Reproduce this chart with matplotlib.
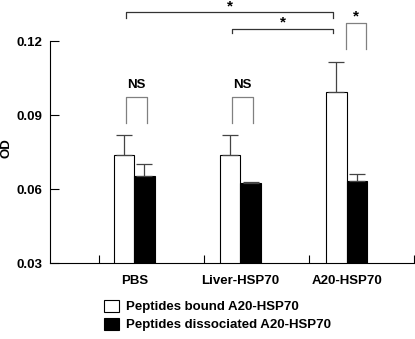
import matplotlib
matplotlib.use("Agg")
import matplotlib.pyplot as plt
import numpy as np

plt.rcParams['font.family'] = ['Liberation Sans', 'DejaVu Sans']
plt.rcParams['font.weight'] = 'bold'

categories = ["PBS", "Liver-HSP70", "A20-HSP70"]
series_names = ["Peptides bound A20-HSP70", "Peptides dissociated A20-HSP70"]
bound = [0.0738, 0.0737, 0.0992]
bound_err = [0.0081, 0.0082, 0.0122]
dissociated = [0.0653, 0.0626, 0.0634]
dissociated_err = [0.0047, 0.0003, 0.0028]
yticks = [0.03, 0.06, 0.09, 0.12]

# significance annotations: (x-left, x-right, y-top, y-leg-bottom, label)
pair_brackets = [(1 - 0.075, 1 + 0.115, 0.0974, 0.0866, "NS"),
                 (2 - 0.080, 2 + 0.118, 0.0974, 0.0866, "NS"),
                 (3 - 0.005, 3 + 0.185, 0.1274, 0.1168, "*")]
group_brackets = [(1 - 0.075, 3 - 0.126, 0.1316, 0.1294, "*"),
                  (2 - 0.080, 3 - 0.126, 0.1250, 0.1231, "*")]

fig = plt.figure(figsize=(4.15, 3.39), dpi=100)
ax = fig.add_axes([50/415, 76/339, 365/415, 222/339])

x = np.arange(1, len(categories) + 1)
w = 0.19
ekw = dict(ecolor='#444444', elinewidth=0.9, capsize=6, capthick=0.9)
b1 = ax.bar(x - w/2, bound, w, color='white', edgecolor='black', linewidth=0.8,
            yerr=[np.zeros(3), bound_err], error_kw=ekw, label=series_names[0], zorder=2)
b2 = ax.bar(x + w/2, dissociated, w, color='black', edgecolor='black', linewidth=0.8,
            yerr=[np.zeros(3), dissociated_err], error_kw=ekw, label=series_names[1], zorder=2)

ax.set_xlim(0.205, 3.645)
ax.set_ylim(0.03, 0.12)
ax.set_yticks(yticks)
ax.set_yticklabels([f"{v:.2f}" for v in yticks], fontsize=9.5, fontweight='bold')
ax.tick_params(axis='y', direction='in', length=6.5, width=0.8, pad=5.5)
ax.set_xticks(x)
ax.set_xticklabels(categories, fontsize=9.5, fontweight='bold')
ax.tick_params(axis='x', which='major', length=0, pad=9)
ax.set_xticks([0.67, 1.655, 2.645, 3.635], minor=True)
ax.tick_params(axis='x', which='minor', direction='in', length=5.8, width=0.8)
for s in ['top', 'right']:
    ax.spines[s].set_visible(False)
for s in ['left', 'bottom']:
    ax.spines[s].set_linewidth(0.8)

fig.text(7/415, 1 - 148/339, "OD", rotation=90, fontsize=9.5, fontweight='bold',
         ha='center', va='center')

for (xl, xr, yt, yb, lab) in pair_brackets:
    ax.plot([xl, xl, xr, xr], [yb, yt, yt, yb], color='#808080', lw=0.9, clip_on=False)
    if lab == "NS":
        ax.text((xl + xr)/2, yt + 0.0022, lab, ha='center', va='bottom', fontsize=9.5,
                fontweight='bold')
    else:
        ax.text((xl + xr)/2, yt - 0.0003, lab, ha='center', va='bottom', fontsize=11,
                fontweight='bold')
for (xl, xr, yt, yb, lab) in group_brackets:
    ax.plot([xl, xl, xr, xr], [yb, yt, yt, yb], color='#333333', lw=0.9, clip_on=False)
    ax.text((xl + xr)/2, yt - 0.0003, lab, ha='center', va='bottom', fontsize=11,
            fontweight='bold')

leg = fig.legend(handles=[b1.patches[0], b2.patches[0]], labels=series_names,
                 loc='upper left', bbox_to_anchor=(104/415, 1 - 300/339),
                 frameon=False, fontsize=9.5, borderpad=0, borderaxespad=0,
                 handlelength=1.14, handleheight=1.0, handletextpad=0.5,
                 labelspacing=0.35, prop={'weight': 'bold', 'size': 9.5})

fig.savefig("out.png", dpi=100)
